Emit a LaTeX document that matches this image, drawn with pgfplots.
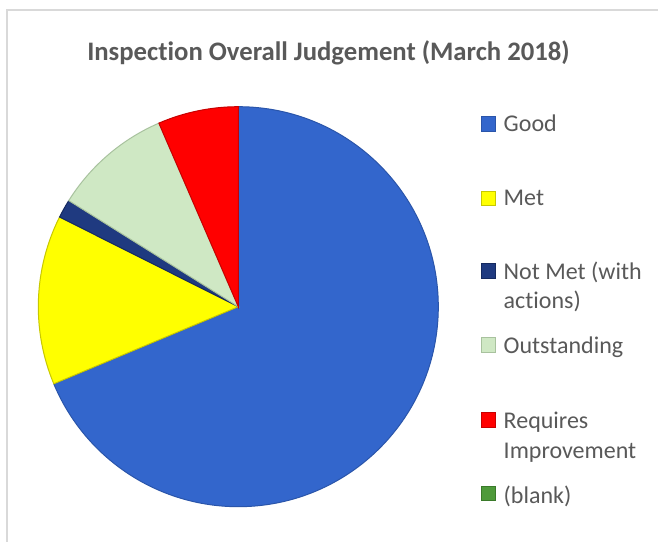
\documentclass[border=0pt]{standalone}
\usepackage{pgfplots}
\usepackage{pgfplotstable}
\pgfplotsset{compat=1.18}
\usepackage{fontspec}
\setmainfont{Carlito}[Ligatures=NoCommon]
\definecolor{cGood}{HTML}{3366CC}
\definecolor{cGoodD}{HTML}{2A55AA}
\definecolor{cMet}{HTML}{FFFF00}
\definecolor{cMetD}{HTML}{C8C800}
\definecolor{cNot}{HTML}{1F3A80}
\definecolor{cNotD}{HTML}{152A60}
\definecolor{cOut}{HTML}{CFE8C4}
\definecolor{cOutD}{HTML}{A8C29E}
\definecolor{cRI}{HTML}{FF0000}
\definecolor{cRID}{HTML}{C80000}
\definecolor{cBlank}{HTML}{4E9A3A}
\definecolor{cBlankD}{HTML}{3A7A2A}
\definecolor{frame}{HTML}{D9D9D9}
\definecolor{txt}{HTML}{595959}

\pgfplotstableread{
label value
Good 68.7
Met 13.7
NotMet 1.5
Outstanding 9.6
RequiresImprovement 6.5
blank 0
}\piedata

\newcommand\legsq[3]{% color, dark color, baseline y (from top)
  \fill[#1,draw=#2,line width=0.6pt] (481,{541-#3}) rectangle (495.5,{541-#3+14.5});}
\newcommand\legtxt[2]{% baseline y from top, text
  \node[anchor=base west,inner sep=0pt,text=txt,font=\fontsize{24}{28}\selectfont] at (503.5,{541-#1}) {#2};}

\begin{document}
\begin{tikzpicture}[x=1pt,y=1pt]
\path[use as bounding box] (0,0) rectangle (658,541);
\fill[white] (0,0) rectangle (658,541);
\draw[color=frame,line width=1.8pt] (7,-2) -- (7,531) -- (660,531);
\pgfplotstablegetelem{0}{value}\of\piedata\let\vA\pgfplotsretval
\pgfplotstablegetelem{1}{value}\of\piedata\let\vB\pgfplotsretval
\pgfplotstablegetelem{2}{value}\of\piedata\let\vC\pgfplotsretval
\pgfplotstablegetelem{3}{value}\of\piedata\let\vD\pgfplotsretval
\pgfplotstablegetelem{4}{value}\of\piedata\let\vE\pgfplotsretval
\pgfmathsetmacro\tA{90}
\pgfmathsetmacro\tB{\tA-3.6*\vA}
\pgfmathsetmacro\tC{\tB-3.6*\vB}
\pgfmathsetmacro\tD{\tC-3.6*\vC}
\pgfmathsetmacro\tE{\tD-3.6*\vD}
\pgfmathsetmacro\tF{\tE-3.6*\vE}
\def\cx{238.3}\def\cy{234.3}\def\R{200}
\begin{axis}[x=1pt,y=1pt,xmin=0,xmax=658,ymin=0,ymax=541,hide axis,clip=false,anchor=origin,at={(0,0)}]
\fill[cGood,draw=cGoodD,line width=1pt] (axis cs:\cx,\cy) -- (axis cs:{\cx+\R*cos(\tA)},{\cy+\R*sin(\tA)}) arc[start angle=\tA,end angle=\tB,radius=200pt] -- cycle;
\fill[cMet,draw=cMetD,line width=1pt] (axis cs:\cx,\cy) -- (axis cs:{\cx+\R*cos(\tB)},{\cy+\R*sin(\tB)}) arc[start angle=\tB,end angle=\tC,radius=200pt] -- cycle;
\fill[cNot,draw=cNotD,line width=1pt] (axis cs:\cx,\cy) -- (axis cs:{\cx+\R*cos(\tC)},{\cy+\R*sin(\tC)}) arc[start angle=\tC,end angle=\tD,radius=200pt] -- cycle;
\fill[cOut,draw=cOutD,line width=1pt] (axis cs:\cx,\cy) -- (axis cs:{\cx+\R*cos(\tD)},{\cy+\R*sin(\tD)}) arc[start angle=\tD,end angle=\tE,radius=200pt] -- cycle;
\fill[cRI,draw=cRID,line width=1pt] (axis cs:\cx,\cy) -- (axis cs:{\cx+\R*cos(\tE)},{\cy+\R*sin(\tE)}) arc[start angle=\tE,end angle=\tF,radius=200pt] -- cycle;
\end{axis}
\node[anchor=base,inner sep=0pt,text=txt,font=\fontsize{26.7}{30}\selectfont\bfseries] at (328.5,{541-61}) {Inspection Overall Judgement (March 2018)};
\legsq{cGood}{cGoodD}{131}\legtxt{131.5}{Good}
\legsq{cMet}{cMetD}{205.5}\legtxt{206}{Met}
\legsq{cNot}{cNotD}{278}\legtxt{280}{Not Met (with}\legtxt{308.5}{actions)}
\legsq{cOut}{cOutD}{352}\legtxt{354}{Outstanding}
\legsq{cRI}{cRID}{427}\legtxt{428.5}{Requires}\legtxt{458}{Improvement}
\legsq{cBlank}{cBlankD}{500.5}\legtxt{503}{(blank)}
\end{tikzpicture}
\end{document}
